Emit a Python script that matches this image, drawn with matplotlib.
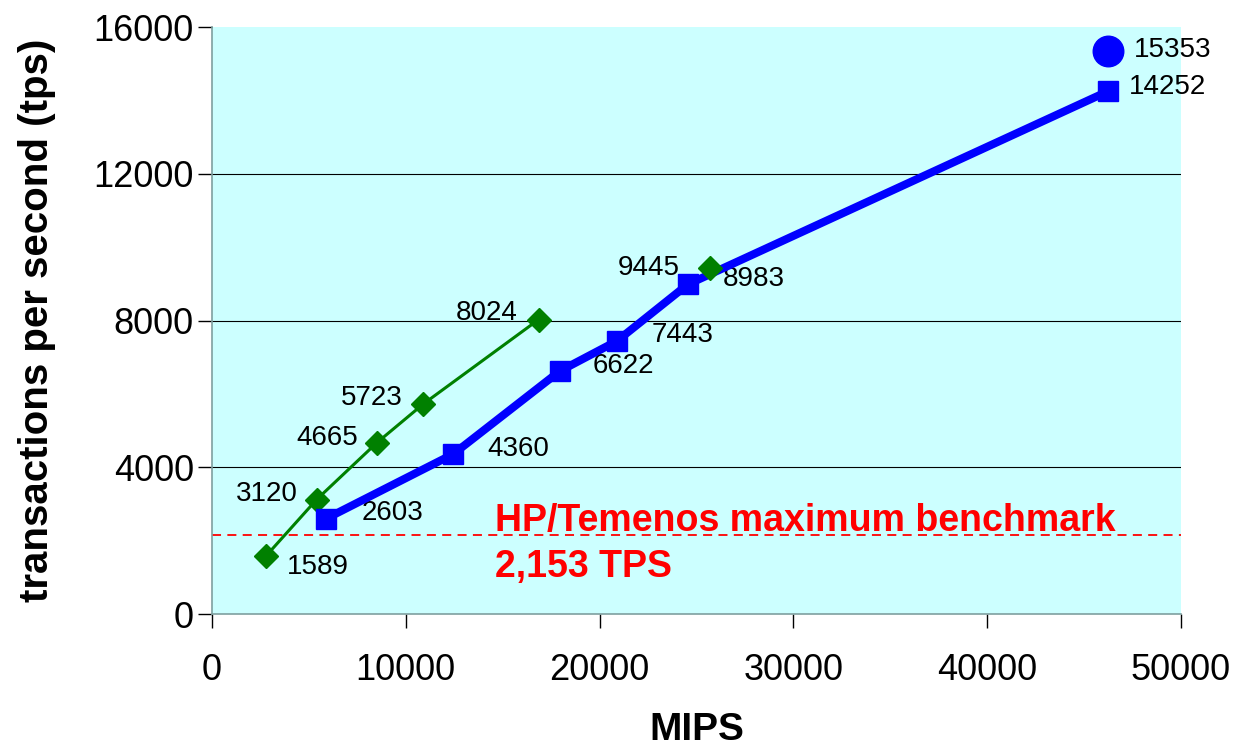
import matplotlib
matplotlib.use("Agg")
import matplotlib.pyplot as plt

plt.rcParams['font.family'] = ['Liberation Sans', 'DejaVu Sans']

# blue series (squares, thick line)
blue_mips = [5900, 12450, 17950, 20900, 24550, 46250]
blue_tps = [2603, 4360, 6622, 7443, 8983, 14252]
# single blue circle
circle_mips = [46250]
circle_tps = [15353]
# green series (diamonds, thin line)
green_mips = [2800, 5400, 8500, 10900, 16850]
green_tps = [1589, 3120, 4665, 5723, 8024]
# isolated green diamond
green2_mips = [25700]
green2_tps = [9445]

benchmark_tps = 2153
benchmark_text = "HP/Temenos maximum benchmark\n2,153 TPS"

fig = plt.figure(figsize=(12.41, 7.46), dpi=100)
ax = fig.add_axes([0.1708, 0.1769, 0.7808, 0.7869])
ax.set_facecolor('#CCFFFF')

ax.set_xlim(0, 50000)
ax.set_ylim(0, 16000)
ax.set_xticks([0, 10000, 20000, 30000, 40000, 50000])
ax.set_yticks([0, 4000, 8000, 12000, 16000])

ax.yaxis.grid(True, color='black', linewidth=0.8)
gl = ax.yaxis.get_gridlines()
gl[0].set_visible(False)
gl[-1].set_visible(False)
ax.set_axisbelow(True)

for s in ['top', 'right']:
    ax.spines[s].set_visible(False)
for s in ['left', 'bottom']:
    ax.spines[s].set_color('#7f9f9f')
    ax.spines[s].set_linewidth(1.2)

ax.tick_params(axis='both', direction='out', length=10, width=1, colors='black', labelsize=26)
ax.tick_params(axis='y', pad=3)
ax.tick_params(axis='x', pad=18)

ax.axhline(benchmark_tps, color='#FF0000', linestyle=(0, (5, 3.5)), linewidth=1.3)

ax.plot(green_mips, green_tps, color='#008000', linewidth=2.2, marker='D', markersize=12.5, zorder=3)
ax.plot(blue_mips, blue_tps, color='#0000FF', linewidth=5.8, marker='s', markersize=14, zorder=4)
ax.plot(circle_mips, circle_tps, color='#0000FF', linestyle='none', marker='o', markersize=22, zorder=4)
ax.plot(green2_mips, green2_tps, color='#008000', linestyle='none', marker='D', markersize=12.5, zorder=5)

# label offsets in pixels (dx, dy), ha
blue_off = [(35, 6, 'left'), (34, 5, 'left'), (33, 5, 'left'), (35, 6, 'left'), (35, 5, 'left'), (21, 4, 'left')]
green_off = [(21, -11, 'left'), (-19, 6, 'right'), (-19, 5, 'right'), (-21, 6, 'right'), (-21, 7, 'right')]

for x, y, (dx, dy, ha) in zip(blue_mips, blue_tps, blue_off):
    ax.annotate(str(y), (x, y), xytext=(dx, dy), textcoords='offset pixels',
                ha=ha, va='center', fontsize=20)
for x, y, (dx, dy, ha) in zip(green_mips, green_tps, green_off):
    ax.annotate(str(y), (x, y), xytext=(dx, dy), textcoords='offset pixels',
                ha=ha, va='center', fontsize=20)
for x, y in zip(circle_mips, circle_tps):
    ax.annotate(str(y), (x, y), xytext=(26, 1), textcoords='offset pixels',
                ha='left', va='center', fontsize=20)
for x, y in zip(circle_mips, circle_tps):
    pass
for x, y in zip(green2_mips, green2_tps):
    ax.annotate(str(y), (x, y), xytext=(-30, 0), textcoords='offset pixels',
                ha='right', va='center', fontsize=20)

ax.annotate(benchmark_text, (14600, benchmark_tps), xytext=(0, -9), textcoords='offset pixels',
            color='#FF0000', fontsize=27, fontweight='bold', ha='left', va='center',
            linespacing=1.38)

ax.set_xlabel('MIPS', fontsize=28, fontweight='bold', labelpad=17)
ax.set_ylabel('transactions per second (tps)', fontsize=29, fontweight='bold', labelpad=27)

fig.savefig('out.png', dpi=100)
